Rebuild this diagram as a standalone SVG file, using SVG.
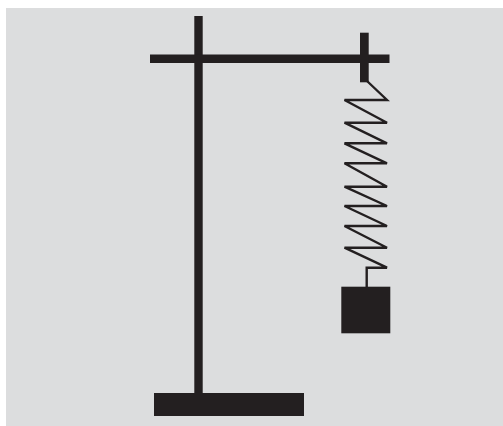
<svg xmlns="http://www.w3.org/2000/svg" width="503" height="426" viewBox="0 0 503 426">
<style>.s{fill:#231f20}.w{fill:none;stroke:#231f20;stroke-width:2.4;stroke-linejoin:miter;stroke-miterlimit:3}</style>
<rect width="503" height="426" fill="#fff"/>
<rect x="6" y="8" width="497" height="418" fill="#dcddde"/>
<g id="stand">
<rect class="s" x="194.3" y="16" width="8.4" height="380"/>
<rect class="s" x="154" y="393" width="150" height="23"/>
<rect class="s" x="150" y="54.5" width="239.5" height="8.5"/>
<rect class="s" x="360" y="32.7" width="8.7" height="49.6"/>
</g>
<g id="connectors">
<path class="w" d="M367 81L387 100H344.5L387 122.7H344.5L387 143.3H344.5L387 163.3H344.5L387 186.7H344.5L387 206H344.5L387 226H344.5L387 247.7H344.5L387 267.7H366.7V287"/>
</g>
<g id="weight">
<rect class="s" x="341.3" y="286.7" width="49" height="46.6"/>
</g>
</svg>
